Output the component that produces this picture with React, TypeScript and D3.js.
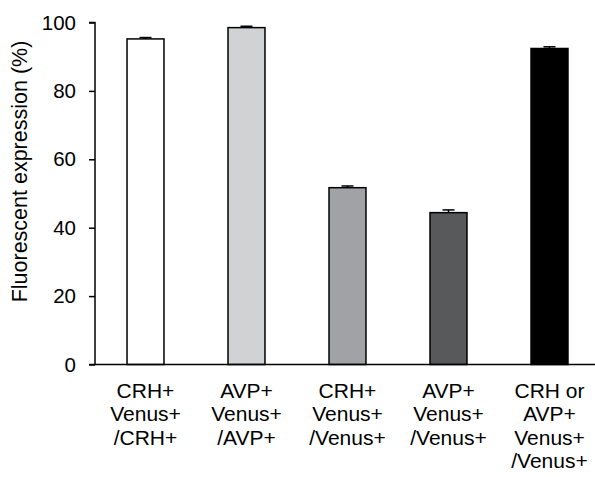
import React, { useEffect, useRef } from 'react';
import * as d3 from 'd3';

const categories = [
  ['CRH+', 'Venus+', '/CRH+'],
  ['AVP+', 'Venus+', '/AVP+'],
  ['CRH+', 'Venus+', '/Venus+'],
  ['AVP+', 'Venus+', '/Venus+'],
  ['CRH or', 'AVP+', 'Venus+', '/Venus+'],
];
const values = [95.2, 98.5, 51.7, 44.4, 92.4];
const errors = [0.4, 0.4, 0.5, 0.8, 0.5];
const fills = ['#ffffff', '#d1d2d4', '#a1a2a5', '#58595b', '#000000'];
const yTicks = [0, 20, 40, 60, 80, 100];

const W = 595;
const H = 477;

const App = () => {
  const svgRef = useRef<SVGSVGElement>(null);

  useEffect(() => {
    const svg = d3.select(svgRef.current);
    svg.selectAll('*').remove();

    const font = 'Liberation Sans, Arial, sans-serif';
    const x0 = 95;
    const y = d3.scaleLinear().domain([0, 100]).range([364.5, 22.5]);
    const x = d3.scaleBand<number>()
      .domain(d3.range(values.length))
      .range([x0, 600])
      .paddingInner(0.634)
      .paddingOuter(0.317);

    // bars
    svg.append('g')
      .selectAll('rect')
      .data(values)
      .enter()
      .append('rect')
      .attr('x', (d, i) => x(i)!)
      .attr('y', d => y(d))
      .attr('width', x.bandwidth())
      .attr('height', d => y(0) - y(d))
      .attr('fill', (d, i) => fills[i])
      .attr('stroke', '#000')
      .attr('stroke-width', 1.5);

    // error bars (upper only)
    const eb = svg.append('g');
    values.forEach((v, i) => {
      const cx = x(i)! + x.bandwidth() / 2;
      eb.append('line')
        .attr('x1', cx).attr('x2', cx)
        .attr('y1', y(v)).attr('y2', y(v + errors[i]))
        .attr('stroke', '#000').attr('stroke-width', 1.5);
      eb.append('line')
        .attr('x1', cx - 6).attr('x2', cx + 6)
        .attr('y1', y(v + errors[i])).attr('y2', y(v + errors[i]))
        .attr('stroke', '#000').attr('stroke-width', 1.5);
    });

    // y axis
    const yAxis = svg.append('g')
      .attr('transform', `translate(${x0},0)`)
      .call(d3.axisLeft(y).tickValues(yTicks).tickSize(6).tickPadding(13));
    yAxis.select('.domain').attr('stroke-width', 1.5).attr('d', `M-6,${y(100)}H0V${y(0)}`);
    yAxis.selectAll('.tick line').attr('stroke-width', 1.5);
    yAxis.selectAll('text')
      .style('font-family', font)
      .style('font-size', '20.5px')
      .attr('fill', '#000');

    // x axis line
    svg.append('line')
      .attr('x1', x0 - 6).attr('x2', W)
      .attr('y1', y(0)).attr('y2', y(0))
      .attr('stroke', '#000').attr('stroke-width', 1.5);

    // x labels
    const labels = svg.append('g');
    categories.forEach((lines, i) => {
      const cx = x(i)! + x.bandwidth() / 2;
      const t = labels.append('text')
        .attr('x', cx)
        .attr('y', 397.5)
        .attr('text-anchor', 'middle')
        .style('font-family', font)
        .style('font-size', '21px');
      lines.forEach((l, j) => {
        t.append('tspan')
          .attr('x', cx)
          .attr('dy', j === 0 ? 0 : 23.5)
          .text(l);
      });
    });

    // y axis title
    svg.append('text')
      .attr('transform', `translate(27,171.5) rotate(-90)`)
      .attr('text-anchor', 'middle')
      .style('font-family', font)
      .style('font-size', '21.5px')
      .text('Fluorescent expression (%)');
  }, []);

  return (
    <svg
      ref={svgRef}
      width={W}
      height={H}
      style={{ position: 'absolute', left: 0, top: 0, background: '#fff' }}
    />
  );
};

export default App;
